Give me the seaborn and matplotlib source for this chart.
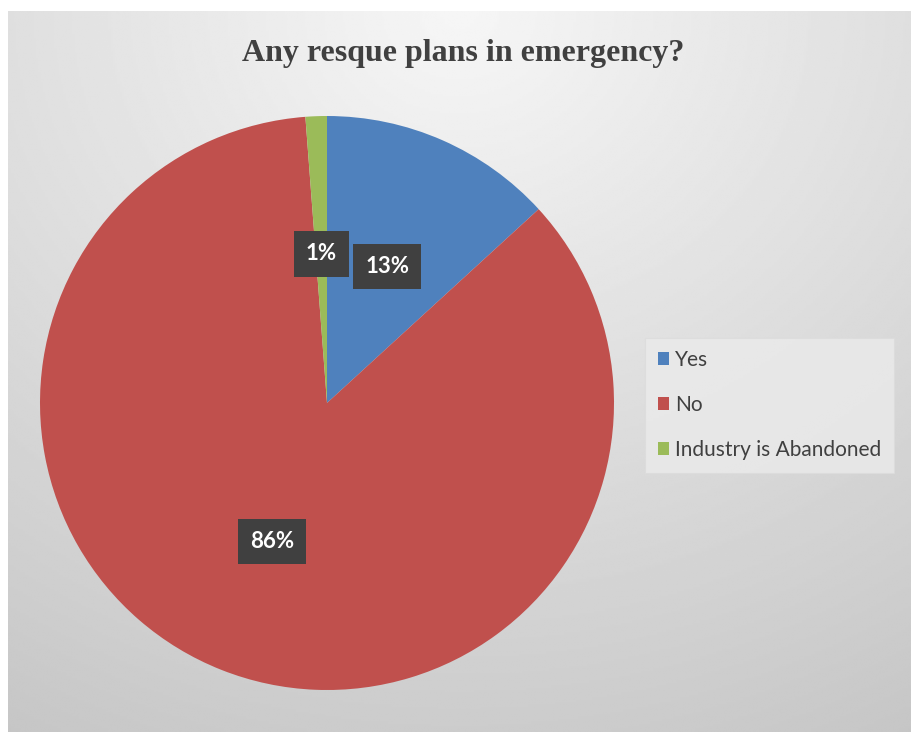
import numpy as np
import matplotlib
matplotlib.use("Agg")
import matplotlib.pyplot as plt
import seaborn as sns

sns.set_style("white")
plt.rcParams['font.family'] = ['Lato', 'DejaVu Sans']

# datos del grafico
categorias = ["Yes", "No", "Industry is Abandoned"]
valores = [13.2, 85.6, 1.2]
colores = ["#4F81BD", "#C0504D", "#9BBB59"]
titulo = "Any resque plans in emergency?"

fig = plt.figure(figsize=(9.11, 7.32), dpi=100)

# fondo con degradado gris
bg = fig.add_axes([8/911, 0, 1 - 8/911, 1 - 11/732])
yy, xx = np.mgrid[0:1:300j, 0:1:400j]
dist = np.sqrt(((xx - 0.5) * 1.1) ** 2 + (yy * 1.0) ** 2)
grad = 0.965 - 0.19 * np.clip(dist / 1.15, 0, 1)
bg.imshow(grad, cmap="gray", vmin=0, vmax=1, aspect="auto",
          extent=[0, 1, 0, 1], origin="upper", interpolation="bilinear")
bg.set_xlim(0, 1)
bg.set_ylim(0, 1)
bg.axis("off")

ax = fig.add_axes([40/911, 42/732, 574/911, 574/732])
wedges, textos, pcts = ax.pie(
    valores, colors=colores, startangle=90, counterclock=False,
    autopct="%.0f%%", pctdistance=0.52,
    wedgeprops=dict(linewidth=0),
    textprops=dict(color="white", fontsize=16, fontweight="bold"))
for t in pcts:
    t.set_bbox(dict(boxstyle="square,pad=0.55", facecolor="#404040",
                    edgecolor="none"))
ax.set_xlim(-1, 1)
ax.set_ylim(-1, 1)
ax.set_aspect("equal")
ax.axis("off")

fig.text(463/911, 1 - 53/732, titulo, ha="center", va="center",
         fontsize=23, fontweight="bold", color="#404040",
         family=["Liberation Serif", "DejaVu Serif"])

leg = fig.legend(wedges, categorias, loc="center left",
                 bbox_to_anchor=(645/911, 1 - 405/732),
                 frameon=True, fancybox=False, fontsize=15,
                 handlelength=0.55, handleheight=0.55, handletextpad=0.3,
                 labelspacing=1.2, borderpad=0.6, borderaxespad=0,
                 labelcolor="#404040")
leg.get_frame().set_facecolor("#ebebeb")
leg.get_frame().set_edgecolor("#dcdcdc")
leg.get_frame().set_linewidth(0.8)

fig.savefig("out.png", dpi=100)
